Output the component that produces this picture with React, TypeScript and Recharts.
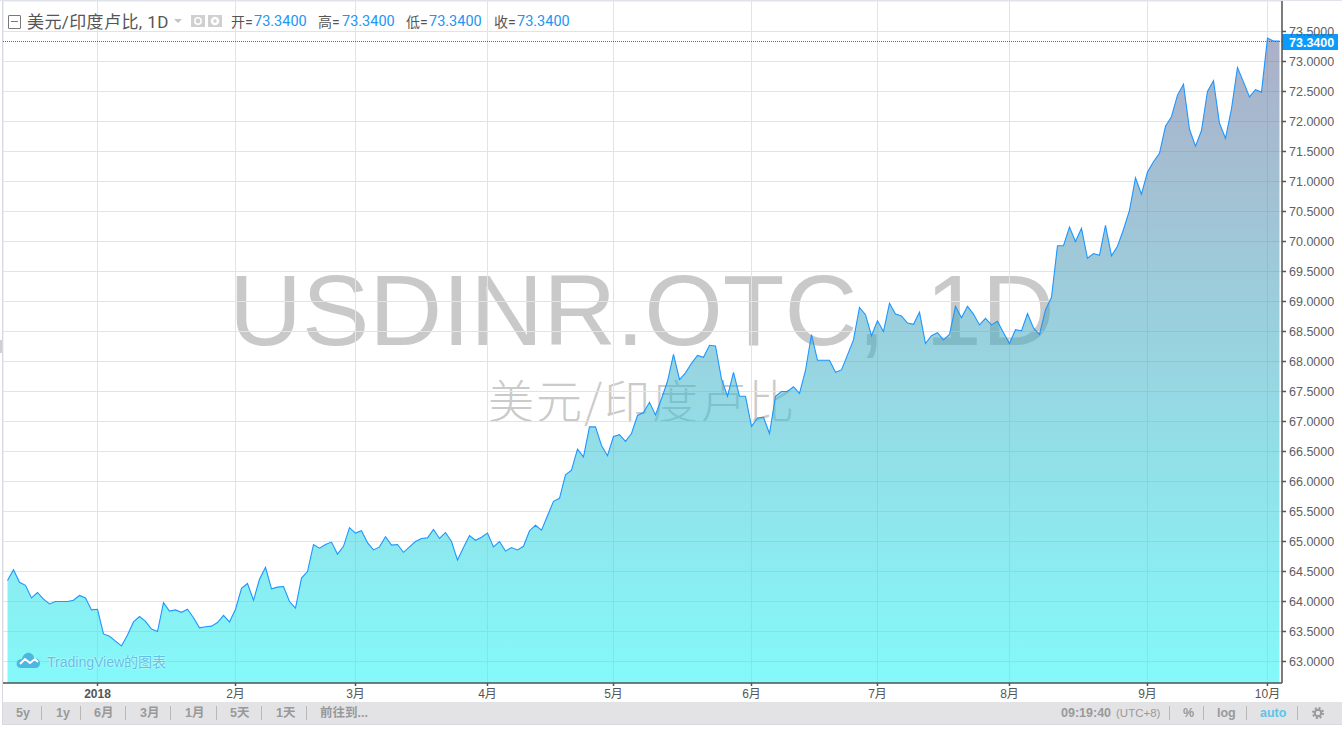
import { Area, AreaChart, CartesianGrid, ReferenceLine, XAxis, YAxis } from "recharts";

// USD/INR daily close, one value per trading day
const closeJanFeb = [
  64.35, 64.53, 64.32, 64.27, 64.06, 64.15, 64.04, 63.96, 64.0, 64.0, 64.0, 64.02, 64.1, 64.06, 63.86, 63.87, 63.46,
  63.42, 63.34, 63.26, 63.44, 63.66, 63.75, 63.67, 63.54, 63.5, 63.98, 63.84, 63.86, 63.82, 63.87, 63.73, 63.56, 63.58,
  63.59, 63.65, 63.77, 63.66, 63.87, 64.22, 64.3, 64.02, 64.37, 64.57, 64.21, 64.24, 64.25, 64.0, 63.89, 64.39, 64.5,
  64.95, 64.89, 64.95,
];
const closeMarApr = [
  64.99, 64.79, 64.92, 65.23, 65.14, 65.18, 64.98, 64.86, 64.91, 65.08, 64.94, 64.95, 64.82, 64.91, 65.0, 65.05, 65.06,
  65.2, 65.05, 65.15, 65.0, 64.69, 64.9, 65.1, 65.02, 65.07, 65.14, 64.91, 65.0, 64.84, 64.9, 64.86, 64.92, 65.18,
  65.27, 65.19, 65.43, 65.67, 65.72, 66.11, 66.19, 66.54, 66.41, 66.91, 66.91, 66.6,
];
const closeMayJul = [
  66.43, 66.75, 66.78, 66.67, 66.8, 67.1, 67.15, 67.32, 67.11, 67.38, 67.67, 68.12, 67.7, 67.81, 67.97, 68.1, 68.07,
  68.27, 68.26, 67.71, 67.42, 67.82, 67.42, 67.42, 66.92, 67.06, 67.07, 66.8, 67.42, 67.5, 67.5, 67.58, 67.47, 67.85,
  68.45, 68.02, 68.02, 68.02, 67.82, 67.86, 68.11, 68.36, 68.9, 68.78, 68.43, 68.68, 68.5, 68.97, 68.79, 68.76, 68.64,
  68.62, 68.82, 68.3,
];
const closeAugOct = [
  68.43, 68.48, 68.36, 68.45, 68.92, 68.73, 68.92, 68.79, 68.61, 68.72, 68.61, 68.67, 68.48, 68.3, 68.53, 68.51, 68.8,
  68.56, 68.45, 68.86, 69.07, 69.93, 69.93, 70.24, 70.0, 70.22, 69.72, 69.8, 69.77, 70.27, 69.76, 69.92, 70.2, 70.52,
  71.06, 70.79, 71.16, 71.33, 71.47, 71.92, 72.08, 72.44, 72.62, 71.87, 71.59, 71.85, 72.5, 72.68, 71.97, 71.72, 72.21,
  72.9, 72.66, 72.41, 72.53, 72.49, 73.39, 73.34, 73.34,
];
const closes = [...closeJanFeb, ...closeMarApr, ...closeMayJul, ...closeAugOct];

const monthTickIndex = [15, 38, 58, 80, 101, 124, 145, 167, 190, 210];
const monthTickLabel = ["2018", "2月", "3月", "4月", "5月", "6月", "7月", "8月", "9月", "10月"];
const priceTicks = [
  63, 63.5, 64, 64.5, 65, 65.5, 66, 66.5, 67, 67.5, 68, 68.5, 69, 69.5, 70, 70.5, 71, 71.5, 72, 72.5, 73, 73.5,
];
const lastPrice = 73.34;

const ohlc = [
  { name: "开", labelX: 231, valueX: 254 },
  { name: "高", labelX: 318, valueX: 342 },
  { name: "低", labelX: 406, valueX: 429 },
  { name: "收", labelX: 494, valueX: 517 },
];
const rangeButtons = [
  { text: "5y", x: 16 },
  { text: "1y", x: 56 },
  { text: "6月", x: 94 },
  { text: "3月", x: 140 },
  { text: "1月", x: 185 },
  { text: "5天", x: 230 },
  { text: "1天", x: 276 },
  { text: "前往到...", x: 320 },
];
const toolbarSeparators = [41, 80, 125, 170, 216, 261, 306, 1169, 1203, 1246, 1297];

const data = closes.map((close, day) => ({ day, close }));

const UI_FONT = '"Liberation Sans", "Noto Sans CJK SC", sans-serif';
const LEGEND_FONT = 'Roboto, "Noto Sans CJK SC", sans-serif';

function TimeTick({ x, y, payload }: any) {
  const label = monthTickLabel[monthTickIndex.indexOf(payload.value)];
  return (
    <text
      x={x}
      y={y + 10}
      textAnchor="middle"
      fontFamily={UI_FONT}
      fontSize={12}
      fontWeight={label === "2018" ? 700 : 400}
      fill="#555"
    >
      {label}
    </text>
  );
}

function PriceTick({ x, y, payload }: any) {
  return (
    <text x={x} y={y + 4.5} fontFamily={UI_FONT} fontSize={12.5} fill="#606060">
      {payload.value.toFixed(4)}
    </text>
  );
}

function LastPriceLabel({ viewBox }: any) {
  const right = viewBox.x + viewBox.width;
  const top = Math.floor(viewBox.y) - 7;
  return (
    <g>
      <rect x={right} y={top} width={56} height={16} fill="#0a9bff" />
      <text x={right + 7} y={top + 12.5} fontFamily={UI_FONT} fontSize={12.5} fontWeight={700} fill="#fff">
        {lastPrice.toFixed(4)}
      </text>
    </g>
  );
}

// keep the dotted line on a whole pixel row
function LastPriceLine({ x1, y1, x2 }: any) {
  const y = Math.floor(y1) + 0.5;
  return <line x1={x1} x2={x2} y1={y} y2={y} stroke="#0a84e0" strokeWidth={1} strokeDasharray="1 1" />;
}

function Txt({ x, y, size = 12.5, color = "#999", bold = false, font = UI_FONT, children, style }: any) {
  return (
    <span
      style={{
        position: "absolute",
        left: x,
        top: y,
        fontFamily: font,
        fontSize: size,
        fontWeight: bold ? 700 : 400,
        color,
        whiteSpace: "nowrap",
        lineHeight: "16px",
        ...style,
      }}
    >
      {children}
    </span>
  );
}

export default function App() {
  return (
    <div style={{ position: "absolute", left: 0, top: 0, width: 1342, height: 729, background: "#fff", overflow: "hidden" }}>
      {/* watermark sits under the chart, the area fill is see-through */}
      <div
        style={{
          position: "absolute",
          left: 229,
          top: 254,
          fontFamily: '"Liberation Sans", sans-serif',
          fontSize: 101,
          lineHeight: "112px",
          color: "#c9c9c9",
          wordSpacing: 12,
          whiteSpace: "nowrap",
        }}
      >
        USDINR.OTC, 1D
      </div>
      <div
        style={{
          position: "absolute",
          left: 488,
          top: 368,
          fontFamily: '"Noto Sans CJK SC", sans-serif',
          fontWeight: 300,
          fontSize: 46,
          letterSpacing: 2,
          lineHeight: "60px",
          color: "#cacaca",
          whiteSpace: "nowrap",
        }}
      >
        美元/印度卢比
      </div>

      <div style={{ position: "absolute", left: 0, top: 0 }}>
        <AreaChart width={1342} height={703} data={data} margin={{ top: 1, right: 0, bottom: 0, left: 3 }}>
          <defs>
            <linearGradient id="closeFill" x1="0" y1="0" x2="0" y2="1">
              <stop offset="0%" stopColor="rgb(104,111,155)" stopOpacity={0.55} />
              <stop offset="100%" stopColor="rgb(31,244,244)" stopOpacity={0.55} />
            </linearGradient>
          </defs>
          <CartesianGrid stroke="#e1e3e9" strokeWidth={1} />
          <XAxis
            dataKey="day"
            type="number"
            domain={[-0.75, 212.42]}
            ticks={monthTickIndex}
            interval={0}
            height={20}
            stroke="#555"
            strokeWidth={1.5}
            tickSize={3}
            tick={<TimeTick />}
          />
          <YAxis
            orientation="right"
            type="number"
            domain={[62.64167, 74.00833]}
            ticks={priceTicks}
            interval={0}
            width={60}
            stroke="#555"
            strokeWidth={1.5}
            tickSize={4}
            tickMargin={3}
            tick={<PriceTick />}
          />
          <Area
            type="linear"
            dataKey="close"
            stroke="#1e96ff"
            strokeWidth={1.1}
            fill="url(#closeFill)"
            fillOpacity={1}
            dot={false}
            activeDot={false}
            isAnimationActive={false}
          />
          <ReferenceLine y={lastPrice} shape={<LastPriceLine />} label={<LastPriceLabel />} />
        </AreaChart>
      </div>

      {/* frame */}
      <div style={{ position: "absolute", left: 2, top: 0, width: 1, height: 724, background: "#d6d9e0" }} />
      <div style={{ position: "absolute", left: 0, top: 340, width: 2, height: 13, background: "#cfcfd3" }} />
      <div style={{ position: "absolute", left: 0, top: 0, width: 1342, height: 1, background: "#e0e3eb" }} />

      {/* legend row */}
      <div style={{ position: "absolute", left: 8, top: 15, width: 11, height: 12, border: "1px solid #777", borderRadius: 1 }}>
        <div style={{ position: "absolute", left: 2, top: 5, width: 7, height: 1, background: "#777" }} />
      </div>
      <Txt x={27} y={14} size={17} color="#555" font={LEGEND_FONT} style={{ letterSpacing: 0.4 }}>
        美元/印度卢比, 1D
      </Txt>
      <svg style={{ position: "absolute", left: 174, top: 19 }} width={8} height={5}>
        <polygon points="0,0 8,0 4,4" fill="#c4c4c4" />
      </svg>
      <svg style={{ position: "absolute", left: 191, top: 15 }} width={31} height={12}>
        <rect x={0} y={0} width={14} height={12} fill="#d0d0d0" />
        <circle cx={7} cy={6} r={3.2} fill="none" stroke="#fff" strokeWidth={1.5} />
        <rect x={17} y={0} width={14} height={12} fill="#d0d0d0" />
        <circle cx={24} cy={6} r={3} fill="none" stroke="#fff" strokeWidth={2.5} />
      </svg>
      {ohlc.map((o) => (
        <span key={o.name}>
          <Txt x={o.labelX} y={14} size={14} color="#555" font={LEGEND_FONT}>
            {o.name}=
          </Txt>
          <Txt x={o.valueX} y={14} size={14.5} color="#2196f3" font={LEGEND_FONT}>
            {lastPrice.toFixed(4)}
          </Txt>
        </span>
      ))}

      {/* TradingView mark */}
      <svg style={{ position: "absolute", left: 16, top: 651 }} width={25} height={18}>
        <path
          d="M5 17 C1 17 0 13 1 11 C2 8 5 8 6 8 C7 3 11 1 14 2 C17 3 18 5 18 7 C21 7 24 9 24 12 C24 15 22 17 19 17 Z"
          fill="#4db6e2"
        />
        <path d="M4 13 L9 8 L14 12 L19 8 L22 11" fill="none" stroke="#fff" strokeWidth={1.8} />
      </svg>
      <Txt x={47} y={654} size={14} color="#5fc0e8" style={{ textShadow: "0 0 2px #fff" }}>
        TradingView的图表
      </Txt>

      {/* bottom toolbar */}
      <div style={{ position: "absolute", left: 3, top: 702, width: 1339, height: 22, background: "#e3e3e6" }} />
      <div style={{ position: "absolute", left: 2, top: 724, width: 1340, height: 1, background: "#d6d9e0" }} />
      {rangeButtons.map((b) => (
        <Txt key={b.text} x={b.x} y={705} bold>
          {b.text}
        </Txt>
      ))}
      {toolbarSeparators.map((x) => (
        <div key={x} style={{ position: "absolute", left: x, top: 706, width: 1, height: 14, background: "#b8b8bb" }} />
      ))}
      <Txt x={1061} y={705} bold>
        09:19:40
      </Txt>
      <Txt x={1116} y={705} size={11.5}>
        (UTC+8)
      </Txt>
      <Txt x={1183} y={705} bold>
        %
      </Txt>
      <Txt x={1217} y={705} bold>
        log
      </Txt>
      <Txt x={1260} y={705} bold color="#5cc3ea">
        auto
      </Txt>
      <svg style={{ position: "absolute", left: 1312, top: 707 }} width={12} height={12}>
        <circle cx={6} cy={6} r={3.2} fill="none" stroke="#999" strokeWidth={2} />
        <circle cx={6} cy={6} r={5} fill="none" stroke="#999" strokeWidth={2} strokeDasharray="2 1.93" />
      </svg>
    </div>
  );
}
